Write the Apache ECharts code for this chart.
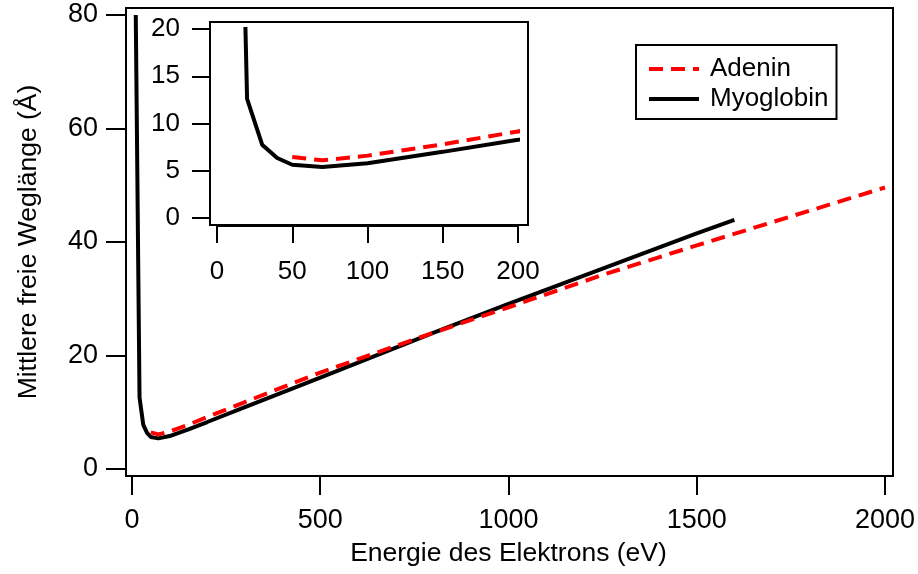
<!DOCTYPE html>
<html>
<head>
<meta charset="utf-8">
<script src="https://cdn.jsdelivr.net/npm/echarts@6/dist/echarts.min.js"></script>
<style>html,body{margin:0;padding:0;background:#fff}#c{width:918px;height:574px}</style>
</head>
<body>
<div id="c"></div>
<script>
// ---- data ----
const myoglobinE = [10, 20, 30, 40, 50, 70, 100, 150, 200, 300, 500, 800, 1000, 1250, 1500, 1600];
const myoglobinL = [80, 12.6, 7.76, 6.35, 5.64, 5.4, 5.8, 7.0, 8.28, 10.9, 16.1, 24.0, 29.1, 35.3, 41.5, 43.9];
const adeninE = [50, 70, 100, 150, 200, 300, 500, 800, 1000, 1250, 1500, 1750, 2000];
const adeninL = [6.45, 6.1, 6.6, 7.8, 9.16, 11.8, 17.0, 24.0, 28.5, 34.2, 39.4, 44.5, 49.6];
const seriesNames = ['Adenin', 'Myoglobin'];
const xTitle = 'Energie des Elektrons (eV)';
const yTitle = 'Mittlere freie Weglänge (Å)';

const pair = (xs, ys) => xs.map((x, i) => [x, ys[i]]);
const FONT = 'Liberation Sans, Arial, sans-serif';
const DASH = [14, 8];

// layout
const MAIN = {left: 132, top: 15, width: 755, height: 454};
const INSET = {left: 217, top: 29, width: 301, height: 189};

function axisCommon(extra) {
  return Object.assign({
    type: 'value',
    splitLine: {show: false},
    axisLine: {show: true, onZero: false, lineStyle: {color: '#000', width: 2}},
  }, extra);
}
const plain = v => String(v);

const chart = echarts.init(document.getElementById('c'), null, {renderer: 'canvas'});
chart.setOption({
  animation: false,
  backgroundColor: '#fff',
  grid: [
    Object.assign({containLabel: false}, MAIN),
    Object.assign({containLabel: false}, INSET)
  ],
  xAxis: [
    axisCommon({gridIndex: 0, min: 0, max: 2000, interval: 500, offset: 7,
      axisTick: {show: true, inside: false, length: 19, lineStyle: {color: '#000', width: 2}},
      axisLabel: {color: '#000', fontFamily: FONT, fontSize: 27, margin: 45, verticalAlign: 'middle', formatter: plain},
      name: xTitle, nameLocation: 'middle', nameGap: 64,
      nameTextStyle: {color: '#000', fontFamily: FONT, fontSize: 26.5}}),
    axisCommon({gridIndex: 1, min: 0, max: 200, interval: 50, offset: 8,
      axisTick: {show: true, inside: false, length: 17, lineStyle: {color: '#000', width: 2}},
      axisLabel: {color: '#000', fontFamily: FONT, fontSize: 26, margin: 46, verticalAlign: 'middle', formatter: plain}})
  ],
  yAxis: [
    axisCommon({gridIndex: 0, min: 0, max: 80, interval: 20, offset: 6,
      axisTick: {show: true, inside: false, length: 20, lineStyle: {color: '#000', width: 2}},
      axisLabel: {color: '#000', fontFamily: FONT, fontSize: 27, margin: 28, align: 'right', verticalAlign: 'middle', formatter: plain},
      name: yTitle, nameLocation: 'middle', nameGap: 84,
      nameTextStyle: {color: '#000', fontFamily: FONT, fontSize: 26.5}}),
    axisCommon({gridIndex: 1, min: 0, max: 20, interval: 5, offset: 7,
      axisTick: {show: true, inside: false, length: 18, lineStyle: {color: '#000', width: 2}},
      axisLabel: {color: '#000', fontFamily: FONT, fontSize: 26, margin: 30, align: 'right', verticalAlign: 'middle', formatter: plain}})
  ],
  legend: {
    orient: 'vertical',
    left: 636, top: 45,
    data: seriesNames,
    itemWidth: 50, itemHeight: 14, itemGap: 4,
    padding: [11, 8, 7, 11],
    borderColor: '#000', borderWidth: 2, borderRadius: 0,
    backgroundColor: '#fff',
    itemStyle: {opacity: 0},
    lineStyle: {width: 4},
    textStyle: {color: '#000', fontFamily: FONT, fontSize: 26, padding: [0, 0, 0, 6]}
  },
  graphic: [
    {type: 'rect', silent: true, z: 0,
     shape: {x: MAIN.left - 6, y: MAIN.top - 7, width: MAIN.width + 12, height: MAIN.height + 14},
     style: {fill: 'none', stroke: '#000', lineWidth: 2}},
    {type: 'rect', silent: true, z: 0,
     shape: {x: INSET.left - 7, y: INSET.top - 7, width: INSET.width + 17, height: INSET.height + 14},
     style: {fill: 'none', stroke: '#000', lineWidth: 2}}
  ],
  series: [
    {name: 'Myoglobin', type: 'line', xAxisIndex: 0, yAxisIndex: 0, data: pair(myoglobinE, myoglobinL),
     symbol: 'none', clip: true, lineStyle: {color: '#000', width: 4}, itemStyle: {color: '#000'}},
    {name: 'Adenin', type: 'line', xAxisIndex: 0, yAxisIndex: 0, data: pair(adeninE, adeninL),
     symbol: 'none', clip: true, lineStyle: {color: '#ff0000', width: 4, type: DASH}, itemStyle: {color: '#ff0000'}},
    {name: 'Myoglobin', type: 'line', xAxisIndex: 1, yAxisIndex: 1, data: pair(myoglobinE, myoglobinL),
     symbol: 'none', clip: true, lineStyle: {color: '#000', width: 4}, itemStyle: {color: '#000'}},
    {name: 'Adenin', type: 'line', xAxisIndex: 1, yAxisIndex: 1, data: pair(adeninE, adeninL),
     symbol: 'none', clip: true, lineStyle: {color: '#ff0000', width: 4, type: DASH}, itemStyle: {color: '#ff0000'}}
  ]
});
</script>
</body>
</html>
